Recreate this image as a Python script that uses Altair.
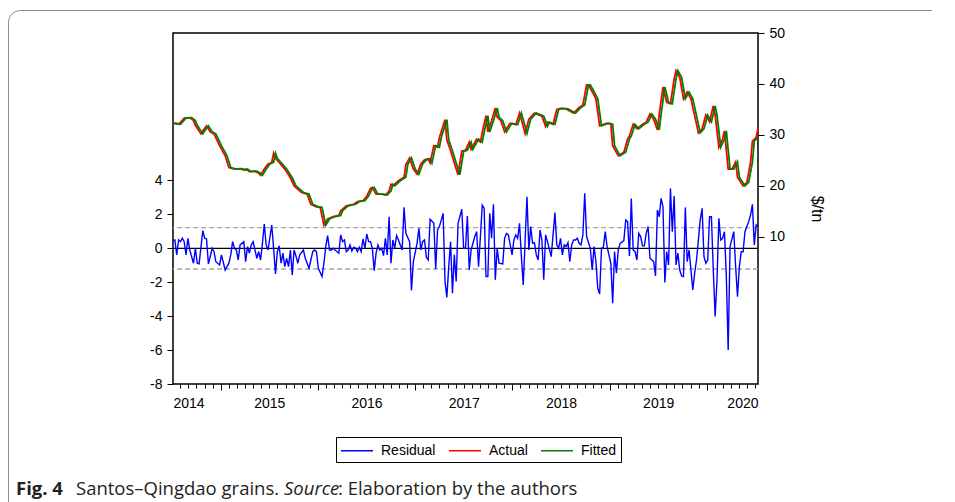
import altair as alt
import pandas as pd

# ---------------- data ----------------
FIRST_OBS = 2014.509          # decimal year of the first weekly observation
N_WEEKS = 314                 # number of weeks after the first observation

resid_week = [0, 1, 2, 3, 4, 5, 6, 7, 8, 9, 11, 12, 13, 14, 16, 17, 18, 19, 20, 21, 22, 23, 25, 26, 28, 30,
              31, 32, 33, 34, 35, 36, 38, 39, 40, 41, 42, 43, 45, 46, 47, 48, 49, 50, 51, 53, 54, 55, 56, 57,
              58, 59, 60, 61, 62, 63, 64, 65, 66, 67, 68, 70, 71, 73, 74, 75, 76, 77, 78, 80, 81, 82, 83, 84,
              85, 86, 87, 89, 90, 91, 92, 93, 94, 95, 96, 97, 98, 99, 100, 101, 102, 103, 104, 105, 106, 107,
              108, 109, 110, 111, 112, 113, 114, 115, 116, 117, 118, 119, 120, 121, 123, 124, 125, 127, 128,
              129, 131, 132, 133, 134, 135, 136, 137, 138, 140, 141, 142, 143, 145, 146, 147, 148, 149, 150,
              151, 152, 153, 155, 156, 157, 158, 159, 160, 162, 163, 164, 165, 166, 167, 168, 169, 170, 171,
              172, 173, 174, 175, 177, 178, 179, 180, 182, 183, 184, 185, 186, 187, 188, 190, 191, 192, 193,
              194, 195, 196, 197, 198, 199, 200, 201, 203, 204, 205, 206, 207, 208, 209, 210, 211, 212, 213,
              214, 215, 216, 217, 218, 219, 220, 221, 222, 224, 225, 226, 227, 228, 229, 230, 231, 232, 233,
              235, 236, 237, 238, 239, 240, 242, 243, 244, 245, 246, 247, 248, 249, 250, 251, 252, 253, 254,
              255, 256, 257, 258, 259, 260, 261, 262, 263, 264, 265, 266, 267, 268, 269, 270, 271, 272, 273,
              274, 275, 276, 277, 279, 280, 281, 283, 284, 285, 286, 287, 288, 289, 290, 291, 292, 293, 294,
              295, 296, 297, 298, 299, 301, 302, 303, 304, 305, 306, 307, 308, 309, 310, 311, 312, 313, 314]
resid_value = [0.45, 0.49, -0.39, 0.49, 0.39, 0.59, 0.39, -0.39, 0.59, -0.10, -0.88, 0.00, -0.88, -0.92,
               1.04, 0.59, 0.55, -0.92, -0.49, 0.00, -0.20, -0.79, -0.98, -0.39, -1.28, -0.88, -0.39, 0.39,
               0.00, -0.10, -0.69, 0.20, 0.39, -0.79, 0.10, -0.29, 0.20, 0.39, -0.59, -0.20, -0.69, 0.29,
               1.43, 0.20, -0.10, 1.37, 0.00, -1.51, -0.20, 0.14, -0.88, -0.29, -1.08, -0.59, -1.08, -0.10,
               -1.57, -0.10, -0.45, -0.88, -0.39, -0.10, -0.59, -1.18, -0.69, -0.20, -0.10, -0.20, -1.18,
               -1.67, -0.88, 0.10, 0.75, -0.10, -0.10, 0.00, -0.10, -0.29, 0.79, 0.39, 0.49, -0.20, -0.10,
               0.20, -0.16, 0.06, 0.00, -0.20, 0.06, -0.20, 0.55, 0.00, 0.84, 0.39, 0.39, 0.00, -1.32, -0.29,
               0.20, -0.10, 0.00, -0.43, 0.59, -0.39, 1.86, -0.88, 0.49, 0.00, 0.75, 0.49, -0.10, 2.41, 0.88,
               0.39, -2.49, -0.79, 0.29, 1.18, -0.10, 0.39, 0.49, -0.53, -0.69, 1.71, 1.47, -1.22, 1.08, 1.28,
               2.06, -1.96, -2.89, -1.08, 0.39, -2.65, -0.39, -1.96, 1.47, 2.30, 0.00, 0.00, 1.90, -1.28,
               -0.10, 0.69, 0.98, -1.08, 0.69, 2.55, 2.36, -1.67, -1.67, 2.06, 0.59, 2.59, -1.86, 0.00, -0.88,
               -0.92, 0.59, 0.88, 0.79, -0.39, 0.49, 0.79, 0.59, 1.47, -0.49, -2.16, 3.04, -0.10, 1.28, 0.29,
               0.33, -0.39, -0.69, 1.08, 0.49, -1.86, 0.79, 0.39, -0.49, 0.79, 2.10, 0.20, 0.00, 0.59, -0.39,
               0.20, 0.10, 0.33, -0.79, 0.20, 0.49, 0.49, 0.59, 0.29, 0.20, 0.79, 3.24, 0.69, 0.00, -1.28,
               0.10, -0.79, -2.36, -2.69, 0.00, 0.06, 0.98, 0.10, -0.88, -3.24, -0.20, -1.47, -0.10, 0.29,
               0.45, 1.67, 1.57, -0.45, 2.94, -0.10, -0.20, -0.69, 0.88, 0.69, 0.14, 0.14, 0.88, 1.28, -0.59,
               -0.69, -0.79, -1.63, 2.26, 1.86, 2.94, 2.45, -2.02, -0.20, -0.98, 3.53, 0.98, 3.08, -0.98,
               -0.29, -1.28, -1.63, -1.67, 2.41, -0.79, -0.10, -2.45, -1.47, -0.69, 1.67, 2.36, -0.49, -0.88,
               -0.69, 1.86, 1.86, -1.28, -4.02, -1.86, 1.77, 0.49, 0.59, 0.98, -1.67, -5.99, 0.10, 0.98,
               -1.08, -2.85, -1.08, -0.20, -0.20, 0.98, 1.28, 1.57, 1.96, 2.59, 0.20, 1.37, 1.24]

actual_week = [0, 3, 6, 9, 11, 12, 15, 16, 18, 20, 22, 25, 28, 30, 33, 36, 38, 39, 41, 44, 46, 47, 49, 51, 53,
               54, 55, 57, 60, 63, 65, 69, 72, 74, 77, 79, 81, 83, 86, 89, 90, 93, 97, 99, 102, 104, 106, 107,
               109, 112, 114, 116, 117, 118, 121, 124, 125, 127, 129, 131, 133, 135, 137, 138, 140, 142, 143,
               146, 147, 149, 151, 153, 155, 157, 159, 160, 163, 165, 166, 168, 169, 171, 173, 174, 176, 178,
               180, 181, 184, 186, 187, 189, 191, 194, 196, 198, 200, 201, 204, 206, 208, 211, 215, 218, 220,
               222, 223, 226, 227, 229, 233, 235, 236, 239, 242, 244, 245, 247, 249, 252, 254, 256, 258, 260,
               261, 263, 265, 267, 269, 270, 272, 274, 276, 278, 280, 282, 284, 286, 288, 290, 291, 293, 295,
               296, 298, 300, 302, 303, 306, 308, 310, 311, 313, 314]
actual_value = [32.3, 32.1, 33.3, 33.4, 32.8, 31.9, 30.2, 30.8, 31.8, 30.6, 30.2, 27.9, 25.9, 23.6, 23.3,
                23.4, 23.1, 23.3, 22.8, 22.9, 22.5, 22.1, 23.3, 24.3, 24.6, 26.4, 25.4, 24.6, 23.3, 21.6,
                20.0, 18.7, 18.4, 16.4, 15.9, 15.8, 12.3, 13.5, 14.0, 14.2, 15.1, 16.1, 16.4, 16.9, 17.1,
                18.0, 19.5, 19.7, 18.4, 18.4, 18.2, 19.0, 20.3, 20.0, 21.0, 21.7, 24.2, 25.5, 23.3, 22.3,
                24.3, 25.1, 25.3, 24.5, 27.9, 27.6, 29.5, 33.0, 29.0, 26.9, 24.5, 22.2, 26.8, 27.0, 28.6,
                27.2, 29.2, 28.6, 30.5, 33.8, 30.6, 32.8, 35.3, 33.5, 32.8, 30.6, 31.8, 32.3, 32.0, 34.3,
                33.0, 30.3, 33.1, 34.3, 34.0, 33.7, 31.7, 32.5, 32.1, 35.0, 35.2, 35.1, 34.3, 35.4, 35.9,
                39.8, 39.8, 37.8, 37.1, 31.8, 32.3, 32.1, 27.9, 25.9, 26.6, 29.2, 29.8, 32.1, 31.2, 32.1,
                32.5, 34.1, 33.1, 31.0, 34.1, 39.4, 36.4, 36.1, 41.0, 42.6, 41.3, 37.1, 38.4, 37.1, 33.8,
                30.4, 31.2, 33.9, 32.6, 35.7, 33.9, 27.6, 29.2, 30.8, 23.3, 23.3, 24.7, 21.7, 20.0, 20.7,
                24.6, 28.8, 29.5, 31.3]

fitted_week = [0, 1, 4, 7, 10, 12, 13, 16, 17, 19, 21, 23, 26, 29, 31, 34, 37, 39, 40, 42, 45, 47, 48, 50, 52,
               54, 55, 56, 58, 61, 64, 66, 70, 73, 75, 78, 80, 82, 84, 87, 90, 91, 94, 98, 100, 103, 105, 107,
               108, 110, 113, 115, 117, 118, 119, 122, 125, 126, 128, 130, 132, 134, 136, 138, 139, 141, 143,
               144, 147, 148, 150, 152, 154, 156, 158, 160, 161, 164, 166, 167, 169, 170, 172, 174, 175, 177,
               179, 181, 182, 185, 187, 188, 190, 192, 195, 197, 199, 201, 202, 205, 207, 209, 212, 216, 219,
               221, 223, 224, 227, 228, 230, 234, 236, 237, 240, 243, 245, 246, 248, 250, 253, 255, 257, 259,
               261, 262, 264, 266, 268, 270, 271, 273, 275, 277, 279, 281, 283, 285, 287, 289, 291, 292, 294,
               296, 297, 299, 301, 303, 304, 307, 309, 311, 312, 314]
fitted_value = [32.2, 32.3, 32.1, 33.3, 33.4, 32.8, 31.9, 30.2, 30.8, 31.8, 30.6, 30.2, 27.9, 25.9, 23.6,
                23.3, 23.4, 23.1, 23.3, 22.8, 22.9, 22.5, 22.1, 23.3, 24.3, 24.6, 26.4, 25.4, 24.6, 23.3,
                21.6, 20.0, 18.7, 18.4, 16.4, 15.9, 15.8, 12.3, 13.5, 14.0, 14.2, 15.1, 16.1, 16.4, 16.9,
                17.1, 18.0, 19.5, 19.7, 18.4, 18.4, 18.2, 19.0, 20.3, 20.0, 21.0, 21.7, 24.2, 25.5, 23.3,
                22.3, 24.3, 25.1, 25.3, 24.5, 27.9, 27.6, 29.5, 33.0, 29.0, 26.9, 24.5, 22.2, 26.8, 27.0,
                28.6, 27.2, 29.2, 28.6, 30.5, 33.8, 30.6, 32.8, 35.3, 33.5, 32.8, 30.6, 31.8, 32.3, 32.0,
                34.3, 33.0, 30.3, 33.1, 34.3, 34.0, 33.7, 31.7, 32.5, 32.1, 35.0, 35.2, 35.1, 34.3, 35.4,
                35.9, 39.8, 39.8, 37.8, 37.1, 31.8, 32.3, 32.1, 27.9, 25.9, 26.6, 29.2, 29.8, 32.1, 31.2,
                32.1, 32.5, 34.1, 33.1, 31.0, 34.1, 39.4, 36.4, 36.1, 41.0, 42.6, 41.3, 37.1, 38.4, 37.1,
                33.8, 30.4, 31.2, 33.9, 32.6, 35.7, 33.9, 27.6, 29.2, 30.8, 23.3, 23.3, 24.7, 21.7, 20.0,
                20.7, 24.6, 28.8, 29.5]

band_values = [1.22, -1.22]          # +/- one standard error of the residual
zero_value = [0]
left_ticks = [-8, -6, -4, -2, 0, 2, 4]
right_ticks = [10, 20, 30, 40, 50]
year_ticks = [2015, 2016, 2017, 2018, 2019, 2020]
series_names = ["Residual", "Actual", "Fitted"]
series_colors = ["#0000ff", "#ff0000", "#008000"]
right_title = "$/tn"
caption_parts = ["Fig. 4", "Santos\u2013Qingdao grains.", "Source", ": Elaboration by the authors"]

# ---------------- build tables ----------------
WEEK = 7 / 365.25
X0 = FIRST_OBS
X1 = FIRST_OBS + N_WEEKS * WEEK


def to_year(weeks):
    return [FIRST_OBS + w * WEEK for w in weeks]


resid_df = pd.DataFrame({"x": to_year(resid_week), "v": resid_value, "series": "Residual"})
actual_df = pd.DataFrame({"x": to_year(actual_week), "v": actual_value, "series": "Actual"})
fitted_df = pd.DataFrame({"x": to_year(fitted_week), "v": fitted_value, "series": "Fitted"})

month_ticks = [y + m / 12 for y in range(2014, 2021) for m in range(12) if X0 < y + m / 12 < X1]
label_vals = [X0] + [y + 0.5 for y in range(2015, 2020)] + [X1]

W, H = 585, 351
FONT = "Liberation Sans"

xscale = alt.Scale(domain=[X0, X1], nice=False, zero=False)
yl = alt.Scale(domain=[-8, 12.69], nice=False, zero=False)
yr = alt.Scale(domain=[-18.86, 50], nice=False, zero=False)

left_axis = alt.Axis(orient="left", values=left_ticks, tickSize=6, labelPadding=5, labelFontSize=14,
                     labelExpr="'' + datum.value", domain=False, grid=False, title=None)
right_axis = alt.Axis(orient="right", values=right_ticks, tickSize=6, labelPadding=5, labelFontSize=14,
                      domain=False, grid=False, title=right_title, titleAngle=90, titleFontSize=16,
                      titleFontWeight="normal", titlePadding=24, titleColor="black")

color = alt.Color(
    "series:N",
    scale=alt.Scale(domain=series_names, range=series_colors),
    legend=alt.Legend(title=None, orient="none", legendX=163, legendY=404, direction="horizontal",
                      symbolType="M-1.88,0H1.88", symbolSize=289, symbolStrokeWidth=1.5,
                      symbolOffset=7.5, labelOffset=14.5, labelFont=FONT,
                      labelFontSize=14, labelColor="black", strokeColor="black", padding=4,
                      columnPadding=10, fillColor="white"),
)

bands = alt.Chart(pd.DataFrame({"v": band_values})).mark_rule(
    color="#a8a8a8", strokeWidth=1.3, strokeDash=[5, 3]
).encode(y=alt.Y("v:Q", scale=yl, axis=left_axis))
zero = alt.Chart(pd.DataFrame({"v": zero_value})).mark_rule(color="black", strokeWidth=1.3).encode(
    y=alt.Y("v:Q", scale=yl, axis=left_axis)
)
resid_line = alt.Chart(resid_df).mark_line(strokeWidth=1.4).encode(
    x=alt.X("x:Q", scale=xscale, axis=None),
    y=alt.Y("v:Q", scale=yl, axis=left_axis),
    color=color,
)
resid_layer = alt.layer(bands, zero, resid_line)

actual_line = alt.Chart(actual_df).mark_line(strokeWidth=1.8).encode(
    x=alt.X("x:Q", scale=xscale, axis=None),
    y=alt.Y("v:Q", scale=yr, axis=right_axis),
    color=color,
)
fitted_line = alt.Chart(fitted_df).mark_line(strokeWidth=1.8).encode(
    x=alt.X("x:Q", scale=xscale, axis=None),
    y=alt.Y("v:Q", scale=yr, axis=right_axis),
    color=color,
)
price_layer = alt.layer(actual_line, fitted_line)

minor_axis = alt.Axis(orient="bottom", values=month_ticks, labels=False, tickSize=4, domain=False,
                      grid=False, title=None)
major_axis = alt.Axis(orient="bottom", values=year_ticks, labels=False, tickSize=6, domain=False,
                      grid=False, title=None)
label_axis = alt.Axis(orient="bottom", values=label_vals, labelExpr="floor(datum.value)", labelFlush=True,
                      ticks=False, tickSize=0, domain=False, grid=False, title=None, labelFontSize=14,
                      labelPadding=12, labelOverlap=False)

minor_layer = alt.Chart(pd.DataFrame({"x": month_ticks})).mark_point(opacity=0).encode(
    x=alt.X("x:Q", scale=xscale, axis=minor_axis))
major_layer = alt.Chart(pd.DataFrame({"x": year_ticks})).mark_point(opacity=0).encode(
    x=alt.X("x:Q", scale=xscale, axis=major_axis))
label_layer = alt.Chart(pd.DataFrame({"x": label_vals})).mark_point(opacity=0).encode(
    x=alt.X("x:Q", scale=xscale, axis=label_axis))

one = pd.DataFrame({"a": [0]})
frame = alt.Chart(one).mark_rect(cornerRadius=12, filled=False, stroke="#8c8c8c", strokeWidth=1).encode(
    x=alt.value(-164.5), x2=alt.value(900), y=alt.value(-22.5), y2=alt.value(600))

CAP_Y = 456
CAP_SIZE = 18.5
CAP_COLOR = "#231f20"
cap1 = alt.Chart(one).mark_text(text=caption_parts[0], align="left", font="Open Sans", fontSize=CAP_SIZE,
                                fontWeight="bold", color=CAP_COLOR).encode(x=alt.value(-157), y=alt.value(CAP_Y))
cap2 = alt.Chart(one).mark_text(text=caption_parts[1], align="left", font="Open Sans", fontSize=CAP_SIZE,
                                color=CAP_COLOR).encode(x=alt.value(-97), y=alt.value(CAP_Y))
cap3 = alt.Chart(one).mark_text(text=caption_parts[2], align="left", font="Open Sans", fontSize=CAP_SIZE,
                                fontStyle="italic", color=CAP_COLOR).encode(x=alt.value(111), y=alt.value(CAP_Y))
cap4 = alt.Chart(one).mark_text(text=caption_parts[3], align="left", font="Open Sans", fontSize=CAP_SIZE,
                                color=CAP_COLOR).encode(x=alt.value(165), y=alt.value(CAP_Y))

chart = (
    alt.layer(frame, resid_layer, price_layer, minor_layer, major_layer, label_layer, cap1, cap2, cap3, cap4)
    .resolve_scale(y="independent")
    .resolve_axis(x="independent")
    .properties(
        width=W,
        height=H,
        autosize=alt.AutoSizeParams(type="none"),
        padding={"left": 165, "top": 25, "right": 174, "bottom": 118},
    )
    .configure_view(stroke="black", strokeWidth=1.5)
    .configure_axis(labelFont=FONT, titleFont=FONT, labelColor="black", tickColor="black", tickWidth=1,
                    titleFontWeight="normal")
)

chart.save("out.html", embed_options={"renderer": "svg", "actions": False})
